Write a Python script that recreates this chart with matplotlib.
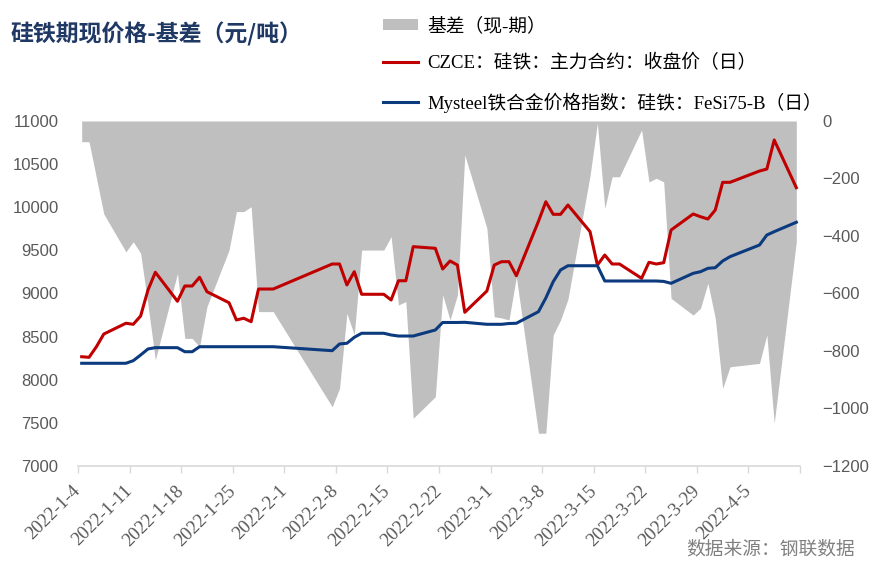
import pandas as pd
import matplotlib
matplotlib.use('Agg')
import matplotlib.pyplot as plt
from matplotlib.patches import Patch
from matplotlib.lines import Line2D

plt.rcParams['font.family'] = ['Liberation Sans', 'Noto Sans CJK SC']

# trading days shown in the chart
dates = ['2022-01-04', '2022-01-05', '2022-01-06', '2022-01-07', '2022-01-10', '2022-01-11', '2022-01-12',
         '2022-01-13', '2022-01-14', '2022-01-17', '2022-01-18', '2022-01-19', '2022-01-20', '2022-01-21',
         '2022-01-24', '2022-01-25', '2022-01-26', '2022-01-27', '2022-01-28', '2022-01-29', '2022-01-30',
         '2022-02-07', '2022-02-08', '2022-02-09', '2022-02-10', '2022-02-11', '2022-02-14', '2022-02-15',
         '2022-02-16', '2022-02-17', '2022-02-18', '2022-02-21', '2022-02-22', '2022-02-23', '2022-02-24',
         '2022-02-25', '2022-02-28',
         '2022-03-01', '2022-03-02', '2022-03-03', '2022-03-04', '2022-03-07', '2022-03-08', '2022-03-09',
         '2022-03-10', '2022-03-11', '2022-03-14', '2022-03-15', '2022-03-16', '2022-03-17', '2022-03-18',
         '2022-03-21', '2022-03-22', '2022-03-23', '2022-03-24', '2022-03-25', '2022-03-28', '2022-03-29',
         '2022-03-30', '2022-03-31',
         '2022-04-01', '2022-04-02', '2022-04-06', '2022-04-07', '2022-04-08', '2022-04-11']

# CZCE ferrosilicon main contract close
futures_close = [8267, 8260, 8383, 8530, 8655, 8643, 8739, 9041, 9246, 8910, 9087, 9087, 9188, 9021,
                 8893, 8693, 8713, 8673, 9052, 9052, 9052,
                 9342, 9342, 9099, 9253, 8991, 8991, 8925, 9148, 9148, 9543, 9524, 9284, 9377, 9330,
                 8782, 9029,
                 9330, 9369, 9369, 9206, 9837, 10064, 9918, 9918, 10026, 9717, 9330, 9446, 9342, 9342,
                 9176, 9362, 9342, 9357, 9736, 9922, 9890, 9864, 9968,
                 10289, 10289, 10420, 10443, 10780, 10227]

# Mysteel FeSi75-B index
spot_index = [8191, 8191, 8191, 8191, 8191, 8221, 8287, 8357, 8372, 8372, 8325, 8325, 8383, 8383,
              8383, 8383, 8383, 8383, 8383, 8383, 8383,
              8337, 8415, 8423, 8492, 8539, 8539, 8519, 8507, 8507, 8507, 8577, 8664, 8664, 8664,
              8666, 8643,
              8643, 8643, 8652, 8655, 8789, 8948, 9137, 9273, 9322, 9322, 9322, 9145, 9145, 9145,
              9145, 9145, 9145, 9140, 9118, 9234, 9253, 9292, 9299,
              9377, 9427, 9562, 9678, 9717, 9826]

# basis (spot - futures), right axis
basis = [-72, -72, -198, -323, -455, -420, -460, -640, -831, -530, -756, -756, -785, -646,
         -449, -315, -315, -298, -663, -663, -663,
         -994, -930, -669, -744, -449, -449, -402, -640, -628, -1034, -959, -605, -692, -605,
         -118, -373,
         -681, -685, -692, -542, -1086, -1086, -744, -692, -620, -190, -7, -304, -194, -194,
         -31, -212, -199, -212, -617, -675, -651, -564, -686,
         -930, -855, -843, -744, -1051, -420]

tick_labels = ['2022-1-4', '2022-1-11', '2022-1-18', '2022-1-25', '2022-2-1', '2022-2-8', '2022-2-15',
               '2022-2-22', '2022-3-1', '2022-3-8', '2022-3-15', '2022-3-22', '2022-3-29', '2022-4-5']

GRAY_TXT = '#595959'

x = pd.to_datetime(dates) + pd.Timedelta(hours=12)

fig = plt.figure(figsize=(8.81, 5.71), dpi=100)
ax1 = fig.add_axes([78 / 881, 1 - 466 / 571, 722 / 881, 345 / 571])
ax2 = ax1.twinx()

ax2.fill_between(x, 0, basis, color='#BFBFBF', linewidth=0)
ax2.set_ylim(-1200, 0)
ax2.set_yticks(range(-1200, 1, 200))

ax1.plot(x, futures_close, color='#C00000', lw=2.2, solid_joinstyle='round')
ax1.plot(x, spot_index, color='#0B3A7E', lw=2.2, solid_joinstyle='round')
ax1.set_zorder(ax2.get_zorder() + 1)
ax1.patch.set_visible(False)

ax1.set_ylim(7000, 11000)
ax1.set_yticks(range(7000, 11001, 500))
ax1.set_xlim(pd.Timestamp('2022-01-04'), pd.Timestamp('2022-04-12'))

tick_pos = list(pd.to_datetime(tick_labels)) + [pd.Timestamp('2022-04-12')]
ax1.set_xticks(tick_pos)
ax1.set_xticklabels(tick_labels + [''], rotation=45, ha='right', va='center',
                    rotation_mode='anchor', family='Liberation Serif', fontsize=13.5, color=GRAY_TXT)
ax1.tick_params(axis='x', direction='out', length=5, width=1, color='#D9D9D9', pad=11)
ax1.tick_params(axis='y', length=0, pad=14, labelsize=12, labelcolor=GRAY_TXT)
ax2.tick_params(axis='y', length=0, pad=16, labelsize=12, labelcolor=GRAY_TXT)

for ax in (ax1, ax2):
    for side in ('left', 'right', 'top', 'bottom'):
        ax.spines[side].set_visible(False)
ax1.spines['bottom'].set_visible(True)
ax1.spines['bottom'].set_color('#D9D9D9')
ax1.spines['bottom'].set_linewidth(1.2)

# title and source
fig.text(10 / 881, 1 - 34 / 571, '硅铁期现价格-基差（元/吨）', fontsize=16.5, fontweight='bold',
         color='#1F3864', va='center', ha='left', family=['Noto Sans CJK SC'])
fig.text(855 / 881, 1 - 550 / 571, '数据来源：钢联数据', fontsize=13.5, color='#808080',
         va='center', ha='right', family=['Liberation Serif', 'Noto Sans CJK SC'])

handles = [Patch(facecolor='#BFBFBF', edgecolor='none'),
           Line2D([], [], color='#C00000', lw=2.2),
           Line2D([], [], color='#0B3A7E', lw=2.2)]
labels = ['基差（现-期）', 'CZCE：硅铁：主力合约：收盘价（日）', 'Mysteel铁合金价格指数：硅铁：FeSi75-B（日）']
fig.legend(handles, labels, loc='upper left', bbox_to_anchor=(383 / 881, 1 - 17 / 571),
           frameon=False, borderpad=0, borderaxespad=0, handlelength=1.85, handleheight=0.55,
           handletextpad=0.5, labelspacing=1.05,
           prop={'family': ['Liberation Serif', 'Noto Sans CJK SC'], 'size': 13.5})

plt.savefig('out.png', dpi=100)
